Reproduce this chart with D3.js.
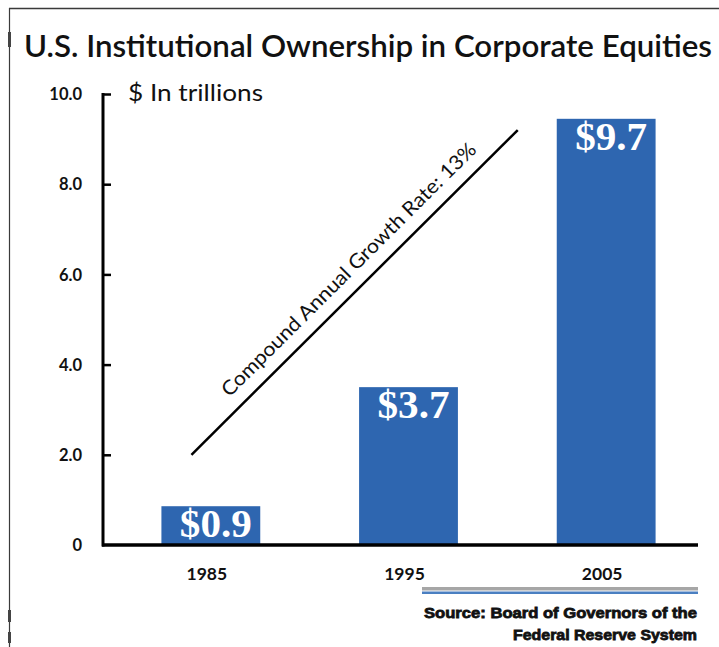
<!DOCTYPE html>
<html>
<head>
<meta charset="utf-8">
<script src="https://cdn.jsdelivr.net/npm/d3@7"></script>
<style>
  body { margin: 0; background: #fff; }
  svg { display: block; }
</style>
</head>
<body>
<div id="chart"></div>
<script>
// values (bar heights), and the labels printed on them
var years = ["1985", "1995", "2005"];
var values = [0.86, 3.5, 9.45];
var valueLabels = ["$0.9", "$3.7", "$9.7"];
var yTicks = [0, 2, 4, 6, 8, 10];
var yTickLabels = ["0", "2.0", "4.0", "6.0", "8.0", "10.0"];
var growthLine = [["1985", 2.0], ["2005", 9.2]];
var sourceLines = ["Source: Board of Governors of the", "Federal Reserve System"];

var W = 719, H = 647;
var sans = "Lato, 'Open Sans', sans-serif";

var svg = d3.select("#chart")
  .append("svg")
    .attr("width", W)
    .attr("height", H);

// frame lines
svg.append("line").attr("x1", 9).attr("x2", W).attr("y1", 8.5).attr("y2", 8.5)
  .attr("stroke", "#3a3a3a").attr("stroke-width", 1.5);
svg.append("line").attr("x1", 9.5).attr("x2", 9.5).attr("y1", 8).attr("y2", H)
  .attr("stroke", "#3a3a3a").attr("stroke-width", 1.2);
[[32, 47], [610, 622], [632, 643]].forEach(function(s) {
  svg.append("rect").attr("x", 8).attr("y", s[0]).attr("width", 3).attr("height", s[1] - s[0])
    .attr("fill", "#444");
});

// title
svg.append("text")
  .attr("x", 24).attr("y", 57)
  .attr("textLength", 688).attr("lengthAdjust", "spacingAndGlyphs")
  .style("font-family", sans).style("font-size", "31px").style("font-weight", "600")
  .attr("fill", "#111")
  .text("U.S. Institutional Ownership in Corporate Equities");

var x = d3.scaleBand()
  .domain(years)
  .range([112, 705])
  .paddingInner(0.5)
  .paddingOuter(0.25);

var y = d3.scaleLinear()
  .domain([0, 10])
  .range([545, 94]);

// bars
svg.selectAll("rect.bar")
  .data(values)
  .enter()
  .append("rect")
    .attr("class", "bar")
    .attr("x", function(d, i) { return x(years[i]); })
    .attr("y", function(d) { return y(d); })
    .attr("width", x.bandwidth())
    .attr("height", function(d) { return y(0) - y(d); })
    .attr("fill", "#2e66b0");

svg.selectAll("text.val")
  .data(values)
  .enter()
  .append("text")
    .attr("class", "val")
    .attr("x", function(d, i) { return x(years[i]) + x.bandwidth() / 2 + 5; })
    .attr("y", function(d) { return y(d) + 31; })
    .attr("text-anchor", "middle")
    .attr("textLength", 72).attr("lengthAdjust", "spacingAndGlyphs")
    .style("font-family", "'Liberation Serif', 'Times New Roman', serif")
    .style("font-size", "39px").style("font-weight", "bold")
    .attr("fill", "#fff")
    .text(function(d, i) { return valueLabels[i]; });

// y axis
var yAxis = svg.append("g")
  .attr("transform", "translate(103,0)")
  .call(d3.axisRight(y).tickValues(yTicks).tickSize(8)
    .tickFormat(function(d, i) { return yTickLabels[i]; }));
yAxis.select(".domain").remove();
yAxis.selectAll(".tick line").attr("stroke", "#000").attr("stroke-width", 2.5);
yAxis.selectAll(".tick").filter(function(d) { return d === 0; }).select("line").remove();
yAxis.selectAll(".tick text")
  .attr("x", -21).attr("text-anchor", "end").attr("dy", "0.35em")
  .style("font-family", sans).style("font-size", "16.5px").style("font-weight", "bold")
  .attr("fill", "#111");
svg.append("line").attr("x1", 103).attr("x2", 103).attr("y1", y(10) - 1).attr("y2", y(0) + 1.5)
  .attr("stroke", "#000").attr("stroke-width", 3);

// x axis
svg.append("line").attr("x1", 102).attr("x2", 698).attr("y1", y(0)).attr("y2", y(0))
  .attr("stroke", "#000").attr("stroke-width", 3.5);
var xAxis = svg.append("g")
  .attr("transform", "translate(0," + y(0) + ")")
  .call(d3.axisBottom(x).tickSize(0));
xAxis.select(".domain").remove();
xAxis.selectAll(".tick text")
  .attr("x", -4).attr("y", 35).attr("dy", "0")
  .style("font-family", sans).style("font-size", "17.5px").style("font-weight", "bold")
  .attr("fill", "#111");

// y axis title
svg.append("text")
  .attr("x", 128).attr("y", 101)
  .attr("textLength", 135).attr("lengthAdjust", "spacingAndGlyphs")
  .style("font-family", sans).style("font-size", "24px")
  .attr("fill", "#111")
  .text("$ In trillions");

// growth line and its label
var gx1 = x(growthLine[0][0]) + 30, gy1 = y(growthLine[0][1]);
var gx2 = x(growthLine[1][0]) - 39, gy2 = y(growthLine[1][1]);
svg.append("line")
  .attr("x1", gx1).attr("y1", gy1).attr("x2", gx2).attr("y2", gy2)
  .attr("stroke", "#000").attr("stroke-width", 2.5);
var ang = Math.atan2(gy2 - gy1, gx2 - gx1) * 180 / Math.PI;
svg.append("text")
  .attr("transform", "translate(" + (gx1 + 38) + "," + (gy1 - 57) + ") rotate(" + ang + ")")
  .attr("textLength", 350).attr("lengthAdjust", "spacingAndGlyphs")
  .style("font-family", sans).style("font-size", "20px")
  .attr("fill", "#111")
  .text("Compound Annual Growth Rate: 13%");

// source rules and text
svg.append("rect").attr("x", 422).attr("y", 587).attr("width", 276).attr("height", 3.5).attr("fill", "#a6a6a6");
svg.append("rect").attr("x", 422).attr("y", 591.5).attr("width", 276).attr("height", 2.5).attr("fill", "#4a7fc1");

var srcLen = [273, 184];
svg.selectAll("text.src")
  .data(sourceLines)
  .enter()
  .append("text")
    .attr("class", "src")
    .attr("x", 697)
    .attr("y", function(d, i) { return 618 + i * 22; })
    .attr("text-anchor", "end")
    .attr("textLength", function(d, i) { return srcLen[i]; })
    .attr("lengthAdjust", "spacingAndGlyphs")
    .style("font-family", "'Liberation Sans', Arial, sans-serif")
    .style("font-size", "15px").style("font-weight", "bold")
    .attr("fill", "#111").attr("stroke", "#111").attr("stroke-width", 0.8)
    .text(function(d) { return d; });
</script>
</body>
</html>
